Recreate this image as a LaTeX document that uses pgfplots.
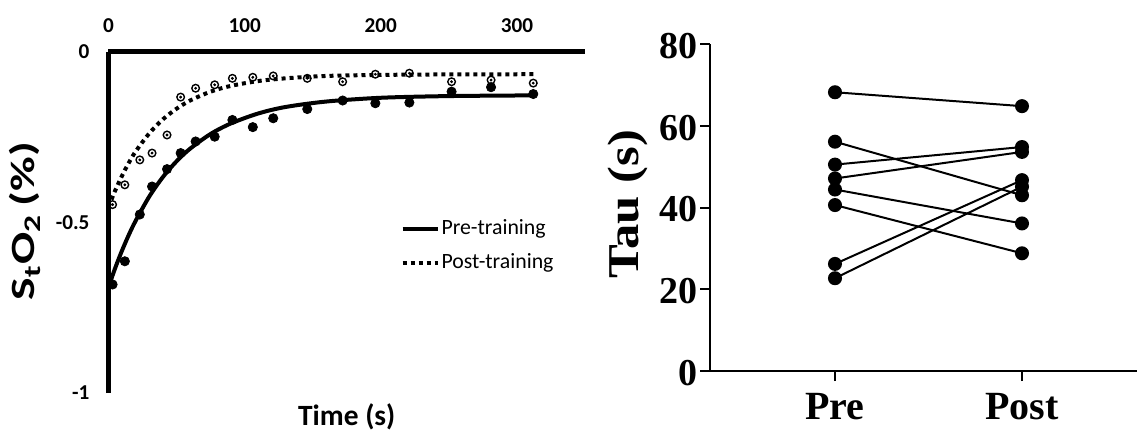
\documentclass[border=0pt]{standalone}
\usepackage{graphicx}
\usepackage{fontspec}
\setmainfont{Carlito}
\newfontfamily\timesfont{Liberation Serif}
\usepackage{pgfplots}
\pgfplotsset{compat=1.18}

\begin{document}
\begin{tikzpicture}[x=1pt,y=1pt]
\useasboundingbox (0,0) rectangle (568.5,215);
% ---------------- Left panel ----------------
\begin{axis}[
  at={(54.25pt,18.5pt)}, anchor=south west,
  scale only axis, width=238.25pt, height=170.65pt,
  xmin=0, xmax=350, ymin=-1, ymax=0,
  axis x line=top, axis y line=left,
  axis line style={-, line width=2.5pt, black},
  xtick={0,100,200,300}, xticklabels={0,100,200,300},
  ytick={-1,-0.5,0}, yticklabels={-1,-0.5,0},
  major tick length=0pt,
  xticklabel style={font=\fontsize{10.6}{12}\selectfont\bfseries, yshift=6pt},
  yticklabel style={font=\fontsize{10.6}{12}\selectfont\bfseries, xshift=-6pt},
  xlabel={Time (s)},
  xlabel style={at={(axis description cs:0.5,-0.0938)}, anchor=base, font=\fontsize{14.7}{16}\selectfont\bfseries},
  ylabel={\scalebox{1.4}[1]{S\textsubscript{t}O\textsubscript{2}\,(\%)}},
  ylabel style={at={(axis description cs:-0.1543,0.504)}, anchor=base, font=\fontsize{17}{19}\selectfont\bfseries},
  legend style={draw=none, fill=none, at={(axis description cs:0.612,0.5145)}, anchor=north west,
    font=\fontsize{10.9}{12}\selectfont, row sep=6pt, inner sep=0pt, nodes={inner sep=1pt}},
  legend cell align=left,
  legend image code/.code={\draw[#1] (0pt,0pt) -- (17.5pt,0pt);},
  clip=false,
]
% pre-training data (filled)
\addplot[only marks, mark=*, mark size=2.3pt, black, forget plot] coordinates {
(3,-0.682) (12,-0.614) (23,-0.477) (32,-0.395) (43,-0.344) (53,-0.297) (64,-0.263) (78,-0.249)
(91,-0.200) (106,-0.221) (121,-0.195) (146,-0.168) (172,-0.143) (196,-0.151) (221,-0.149)
(252,-0.117) (281,-0.104) (312,-0.124)};
% post-training data (open circle with dot)
\addplot[only marks, mark=o, mark size=1.9pt, black, mark options={line width=0.7pt, fill=white}, forget plot] coordinates {
(3,-0.448) (12,-0.390) (23,-0.317) (32,-0.297) (43,-0.244) (53,-0.133) (64,-0.107) (78,-0.097)
(91,-0.078) (106,-0.075) (121,-0.071) (146,-0.078) (172,-0.088) (196,-0.066) (221,-0.063)
(252,-0.088) (281,-0.083) (312,-0.092)};
\addplot[only marks, mark=*, mark size=0.5pt, black, forget plot] coordinates {
(3,-0.448) (12,-0.390) (23,-0.317) (32,-0.297) (43,-0.244) (53,-0.133) (64,-0.107) (78,-0.097)
(91,-0.078) (106,-0.075) (121,-0.071) (146,-0.078) (172,-0.088) (196,-0.066) (221,-0.063)
(252,-0.088) (281,-0.083) (312,-0.092)};
% fitted curves
\addplot[black, line width=2pt, smooth, no marks] coordinates {
(0,-0.690) (5,-0.633) (10,-0.582) (15,-0.536) (20,-0.495) (30,-0.424) (40,-0.367) (50,-0.321)
(60,-0.284) (75,-0.241) (90,-0.210) (110,-0.181) (130,-0.162) (160,-0.146) (200,-0.135)
(250,-0.130) (312,-0.128)};
\addlegendentry{Pre-training}
\addplot[black, line width=2pt, dash pattern=on 2pt off 2pt, smooth, no marks] coordinates {
(0,-0.455) (5,-0.406) (10,-0.363) (15,-0.325) (20,-0.292) (30,-0.239) (40,-0.198) (50,-0.167)
(60,-0.143) (75,-0.117) (90,-0.100) (110,-0.086) (130,-0.078) (160,-0.071) (200,-0.068)
(250,-0.0665) (312,-0.066)};
\addlegendentry{Post-training}
\end{axis}
% ---------------- Right panel ----------------
\begin{axis}[
  at={(355pt,29.5pt)}, anchor=south west,
  scale only axis, width=213.5pt, height=163.5pt,
  xmin=0.3316, xmax=2.615, ymin=0, ymax=80,
  axis x line=bottom, axis y line=left,
  axis line style={-, line width=1pt, black},
  xtick={1,2}, xticklabels={Pre,Post},
  ytick={0,20,40,60,80}, yticklabels={0,20,40,60,80},
  tick align=outside, major tick length=5pt, tick style={line width=1pt, black},
  yticklabel style={font=\fontsize{19}{21}\selectfont\timesfont\bfseries, inner sep=1pt, yshift=-1pt},
  xticklabel style={font=\fontsize{20}{22}\selectfont\timesfont\bfseries, inner sep=1pt, yshift=-5pt},
  ylabel={\scalebox{1.15}[1]{Tau (s)}},
  ylabel style={at={(axis description cs:-0.192,0.51)}, anchor=center, font=\fontsize{22}{24}\selectfont\timesfont\bfseries},
  clip=false,
]
\addplot[black, line width=1pt, mark=*, mark size=3pt] coordinates {(1,68.2) (2,64.8)};
\addplot[black, line width=1pt, mark=*, mark size=3pt] coordinates {(1,56.1) (2,43.0)};
\addplot[black, line width=1pt, mark=*, mark size=3pt] coordinates {(1,50.5) (2,54.8)};
\addplot[black, line width=1pt, mark=*, mark size=3pt] coordinates {(1,47.1) (2,53.6)};
\addplot[black, line width=1pt, mark=*, mark size=3pt] coordinates {(1,44.4) (2,36.1)};
\addplot[black, line width=1pt, mark=*, mark size=3pt] coordinates {(1,40.6) (2,28.8)};
\addplot[black, line width=1pt, mark=*, mark size=3pt] coordinates {(1,26.2) (2,46.7)};
\addplot[black, line width=1pt, mark=*, mark size=3pt] coordinates {(1,22.7) (2,45.1)};
\end{axis}
\end{tikzpicture}
\end{document}
